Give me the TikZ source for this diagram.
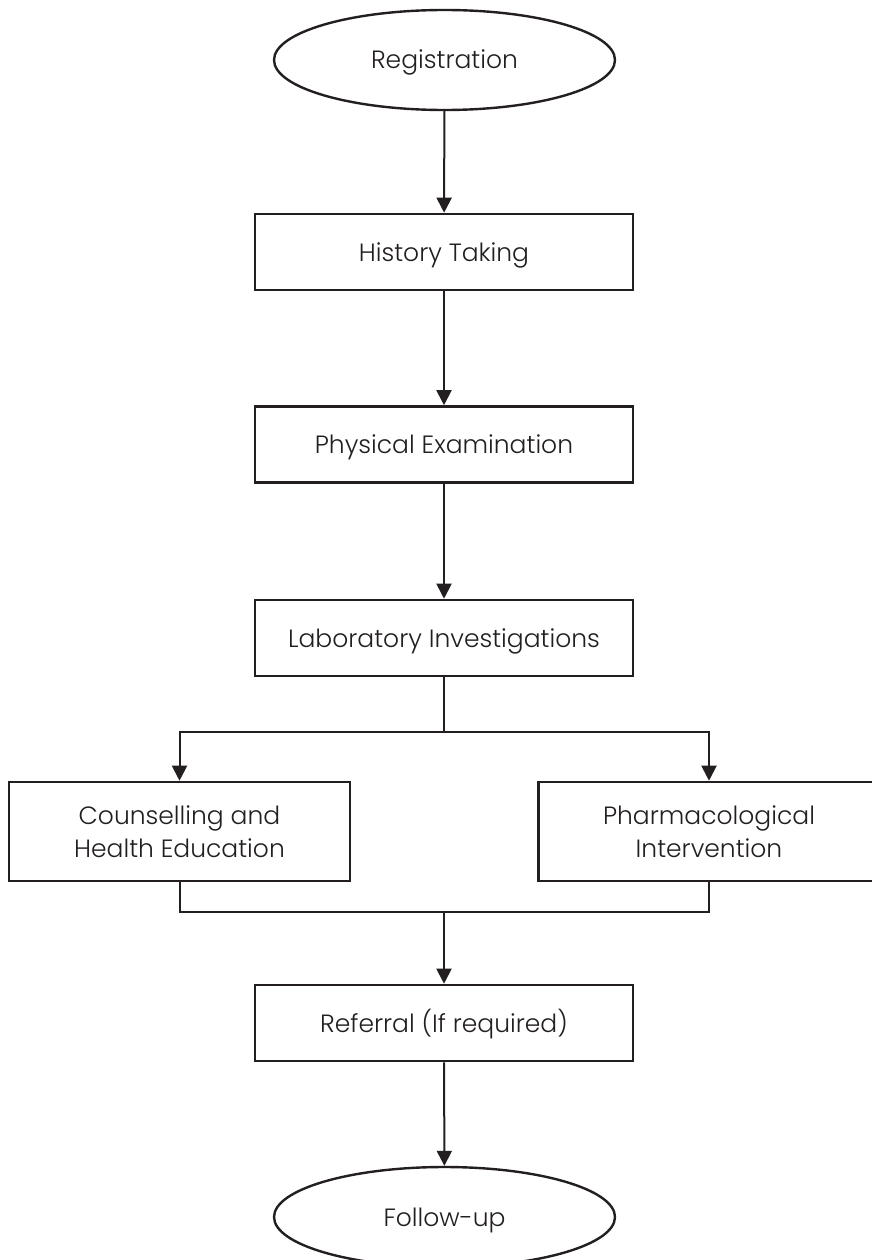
\documentclass[tikz,border=0pt]{standalone}
\usepackage{fontspec}
\setmainfont{Poppins Light}
\usetikzlibrary{arrows.meta,shapes.geometric}
\definecolor{ink}{HTML}{231F20}
\begin{document}
\begin{tikzpicture}[x=1pt,y=-1pt,
  every node/.style={text=ink,font=\fontsize{25}{33}\selectfont,align=center,inner sep=0pt},
  oneline/.style={text height=18pt,text depth=0pt},
  stepbox/.style={oneline,draw=ink,line width=2.6pt,rectangle,minimum width=378pt,minimum height=76pt},
  widebox/.style={draw=ink,line width=2.6pt,rectangle,minimum width=341pt,minimum height=99pt},
  term/.style={oneline,draw=ink,line width=2.4pt,ellipse,minimum width=341pt,minimum height=100pt},
  conn/.style={draw=ink,line width=2pt},
  arr/.style={conn,-{Triangle[length=15pt,width=15pt]}}]
\useasboundingbox (0,0) rectangle (872,1260);
\fill[white] (0,0) rectangle (872,1260);
\node[term] (reg) at (444.5,60) {Registration};
\node[stepbox] (hist) at (444,252) {History Taking};
\node[stepbox] (phys) at (444,444.5) {Physical Examination};
\node[stepbox] (lab) at (444,638) {Laboratory Investigations};
\node[widebox] (couns) at (179.5,831.5) {Counselling and\\Health Education};
\node[widebox] (pharm) at (709,831.5) {Pharmacological\\Intervention};
\node[stepbox] (ref) at (444,1023) {Referral (If required)};
\node[term] (fol) at (444.5,1217) {Follow-up};
\coordinate (split) at (444,732);
\coordinate (merge) at (444,912);
\draw[arr] (reg) -- (hist);
\draw[arr] (hist) -- (phys);
\draw[arr] (phys) -- (lab);
\draw[conn] (lab) -- (split);
\draw[arr] (split) -| (couns);
\draw[arr] (split) -| (pharm);
\draw[conn] (couns) |- (merge);
\draw[conn] (pharm) |- (merge);
\draw[arr] (merge) -- (ref);
\draw[arr] (ref) -- (fol);
\end{tikzpicture}
\end{document}
